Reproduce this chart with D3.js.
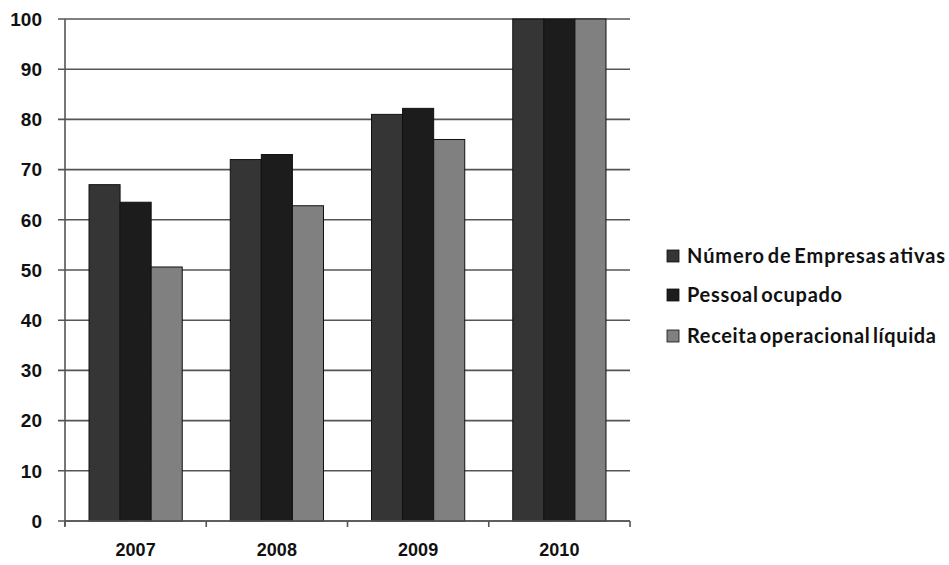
<!DOCTYPE html>
<html><head><meta charset="utf-8">
<script src="https://cdn.jsdelivr.net/npm/d3@7"></script>
<style>body{margin:0;background:#fff;} svg{display:block;}</style>
</head><body>
<script>
const categories = ["2007","2008","2009","2010"];
const seriesNames = ["Número de Empresas ativas","Pessoal ocupado","Receita operacional líquida"];
const empresas = [67, 72, 81, 100];
const pessoal = [63.5, 73, 82.2, 100];
const receita = [50.6, 62.8, 76, 100];
const yTicks = [0,10,20,30,40,50,60,70,80,90,100];
const colors = ["#353535","#1c1c1c","#808080"];

const W=949,H=565;
const svg=d3.select("body").append("svg").attr("width",W).attr("height",H);
const x0=65,x1=630,yTop=19,yBot=521;
const x=d3.scaleBand().domain(categories).range([x0,x1]).paddingInner(0.34).paddingOuter(0.17);
const xs=d3.scaleBand().domain(d3.range(3)).range([0,x.bandwidth()]);
const y=d3.scaleLinear().domain([0,100]).range([yBot,yTop]);

// gridlines
svg.append("g").selectAll("line").data(yTicks).join("line")
 .attr("x1",58).attr("x2",x1).attr("y1",d=>y(d)).attr("y2",d=>y(d))
 .attr("stroke","#555").attr("stroke-width",1.6);

const all=[empresas,pessoal,receita];
categories.forEach((c,i)=>{
  all.forEach((s,j)=>{
    svg.append("rect").attr("x",x(c)+xs(j)).attr("y",y(s[i]))
      .attr("width",xs.bandwidth()).attr("height",y(0)-y(s[i]))
      .attr("fill",colors[j]).attr("stroke","#111").attr("stroke-width",1);
  });
});

// y axis line
svg.append("line").attr("x1",x0).attr("x2",x0).attr("y1",yTop).attr("y2",yBot+5).attr("stroke","#555").attr("stroke-width",1.6);
// x axis
svg.append("line").attr("x1",x0).attr("x2",x1).attr("y1",yBot).attr("y2",yBot).attr("stroke","#555").attr("stroke-width",1.6);
const bounds=[x0].concat(categories.map(c=>x(c)+x.bandwidth()+x.step()*x.paddingInner()/2));
bounds[bounds.length-1]=x1;
svg.append("g").selectAll("line").data(bounds).join("line")
 .attr("x1",d=>d).attr("x2",d=>d).attr("y1",yBot).attr("y2",yBot+6).attr("stroke","#555").attr("stroke-width",1.6);

// y labels
svg.append("g").selectAll("text").data(yTicks).join("text")
 .attr("x",42).attr("y",d=>y(d)).attr("dy","0.36em").attr("text-anchor","end")
 .attr("font-family","Liberation Sans, Arial, sans-serif").attr("font-weight","bold").attr("font-size",19)
 .attr("fill","#111").text(d=>d);

// x labels
svg.append("g").selectAll("text").data(categories).join("text")
 .attr("x",d=>x(d)+x.bandwidth()/2).attr("y",556).attr("text-anchor","middle")
 .attr("font-family","Liberation Sans, Arial, sans-serif").attr("font-weight","bold").attr("font-size",18)
 .attr("fill","#111").text(d=>d);

// legend
const lg=svg.append("g");
const rows=[256,295,336];
const textWidths=[258,155,249];
seriesNames.forEach((n,j)=>{
  lg.append("rect").attr("x",667).attr("y",rows[j]-6).attr("width",12).attr("height",12)
    .attr("fill",colors[j]).attr("stroke","#111").attr("stroke-width",0.8);
  lg.append("text").attr("x",687).attr("y",rows[j]+7)
    .attr("font-family","Lato, sans-serif").attr("font-weight","bold").attr("font-size",20)
    .attr("word-spacing","-3px").attr("textLength",textWidths[j]).attr("lengthAdjust","spacing")
    .attr("fill","#111").text(n);
});
</script>
</body></html>
